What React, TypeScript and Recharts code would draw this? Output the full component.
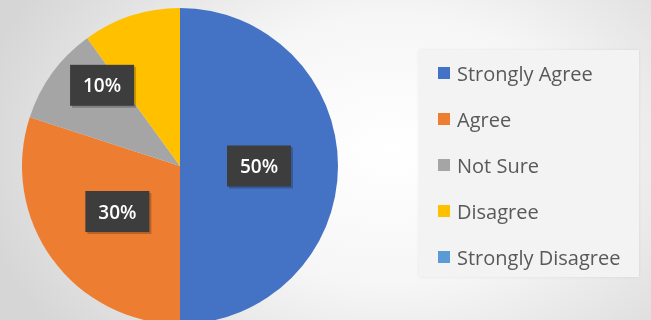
import { PieChart, Pie, Cell, Legend } from "recharts";

const categories = ["Strongly Agree", "Agree", "Not Sure", "Disagree", "Strongly Disagree"];
const values = [50, 30, 10, 10, 0];
const colors = ["#4472C4", "#ED7D31", "#A5A5A5", "#FFC000", "#5B9BD5"];
// only these slices carry a data label in the original
const labelled = [true, true, true, false, false];

const data = categories.map((name, i) => ({ name, value: values[i] }));

const RAD = Math.PI / 180;
// radius factor and angle nudge for each label box
const labelTweak = [
  { f: 0.5, da: 0 },
  { f: 0.49, da: 0 },
  { f: 0.71, da: -10 },
];

function renderLabel(props: any) {
  const { cx, cy, midAngle, outerRadius, percent, index } = props;
  if (!labelled[index]) return null;
  const t = labelTweak[index];
  const a = (midAngle + t.da) * RAD;
  const r = outerRadius * t.f;
  const x = cx + r * Math.cos(a);
  const y = cy - r * Math.sin(a);
  const w = 64;
  const h = 41;
  return (
    <g>
      <rect x={x - w / 2 + 2} y={y - h / 2 + 2} width={w} height={h} fill="rgba(0,0,0,0.22)" />
      <rect x={x - w / 2} y={y - h / 2} width={w} height={h} fill="#3d3d3d" />
      <text
        x={x}
        y={y}
        fill="#ffffff"
        textAnchor="middle"
        dominantBaseline="central"
        fontSize={19}
        fontWeight={600}
        fontFamily="'Open Sans', sans-serif"
      >
        {`${Math.round(percent * 100)}%`}
      </text>
    </g>
  );
}

function renderLegend() {
  return (
    <div
      style={{
        background: "#f3f3f3",
        boxShadow: "0 0 3px rgba(0,0,0,0.08)",
        width: 220,
        height: 227,
        boxSizing: "border-box",
      }}
    >
      {categories.map((name, i) => (
        <div
          key={name}
          style={{
            display: "flex",
            alignItems: "center",
            height: 46,
            paddingLeft: 19,
            fontFamily: "'Open Sans', sans-serif",
            fontSize: 20,
            fontWeight: 500,
            color: "#595959",
          }}
        >
          <span
            style={{
              display: "inline-block",
              width: 12,
              height: 12,
              background: colors[i],
              marginRight: 7,
            }}
          />
          {name}
        </div>
      ))}
    </div>
  );
}

export default function App() {
  return (
    <div
      style={{
        position: "fixed",
        left: 0,
        top: 0,
        width: 651,
        height: 320,
        overflow: "hidden",
        background:
          "radial-gradient(ellipse 420px 300px at 390px 150px, #ffffff 0%, #f6f6f6 45%, #d6d6d6 100%)",
      }}
    >
      <PieChart width={651} height={320} margin={{ top: 0, right: 0, bottom: 0, left: 0 }}>
        <Pie
          data={data}
          dataKey="value"
          nameKey="name"
          cx={180}
          cy={166}
          outerRadius={158}
          startAngle={90}
          endAngle={-270}
          stroke="none"
          label={renderLabel}
          labelLine={false}
          isAnimationActive={false}
        >
          {data.map((d, i) => (
            <Cell key={d.name} fill={colors[i]} />
          ))}
        </Pie>
        <Legend
          content={renderLegend}
          wrapperStyle={{ left: 419, top: 50, width: 220, height: 227 }}
        />
      </PieChart>
    </div>
  );
}
